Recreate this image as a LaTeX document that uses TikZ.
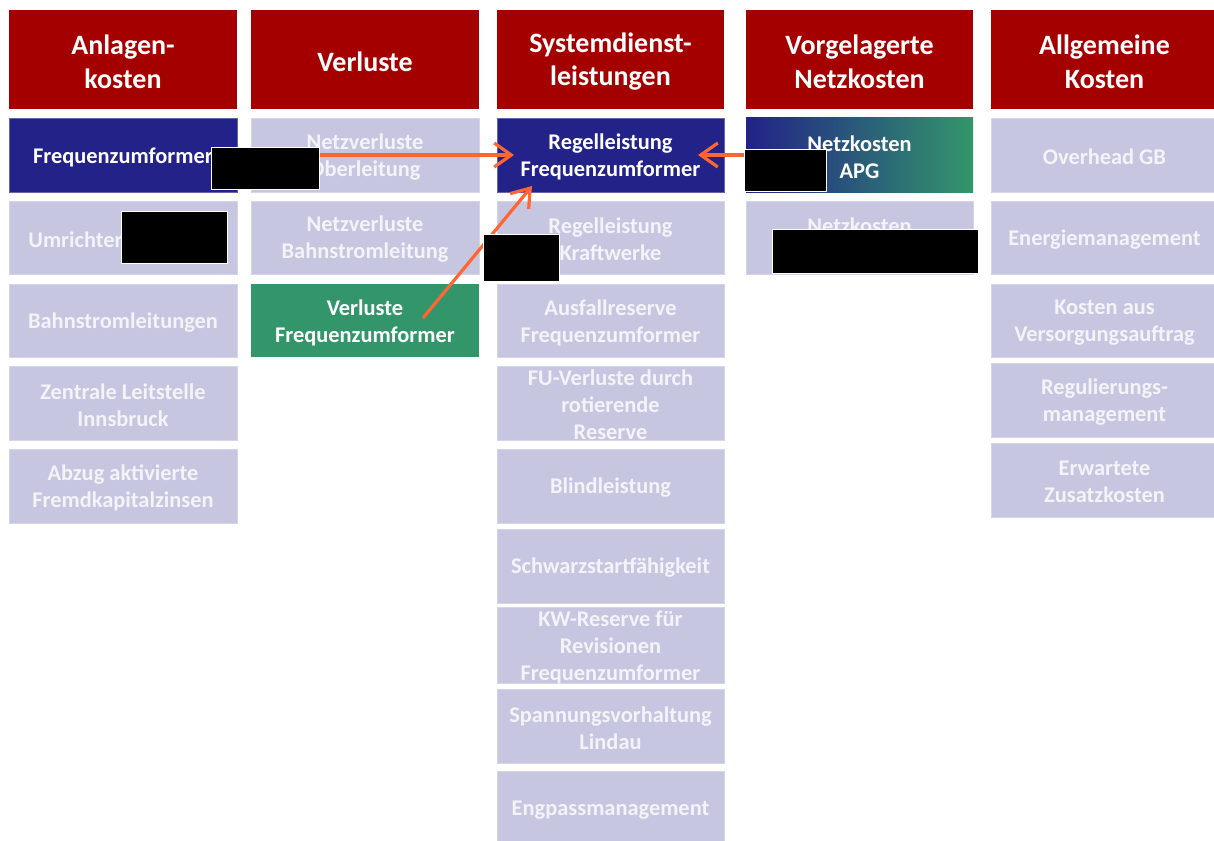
\documentclass[tikz,border=0pt]{standalone}
\usepackage{fontspec}
\setmainfont{Carlito}
\usetikzlibrary{arrows.meta,calc}

\definecolor{hdrred}{HTML}{A50000}
\definecolor{lilac}{HTML}{C6C6E1}
\definecolor{lilacedge}{HTML}{D4D4EA}
\definecolor{lilactxt}{HTML}{F3F3FA}
\definecolor{navy}{HTML}{222288}
\definecolor{teal}{HTML}{33966B}
\definecolor{flame}{HTML}{FF6633}

\tikzset{
  hdrbox/.style={fill=hdrred},
  litebox/.style={fill=lilac, draw=lilacedge, line width=0.4pt},
  navybox/.style={fill=navy, draw=navy!70!white, line width=0.4pt},
  tealbox/.style={fill=teal},
  gradbox/.style={left color=navy, right color=teal},
  hdrtxt/.style={font=\fontsize{14}{16.8}\selectfont\bfseries, text=white, align=center, inner sep=0pt, yshift=-1pt},
  darktxt/.style={font=\fontsize{11.2}{13.5}\selectfont\bfseries, text=white, align=center, inner sep=0pt, yshift=-1pt},
  litetxt/.style={font=\fontsize{11.2}{13.5}\selectfont\bfseries, text=lilactxt, align=center, inner sep=0pt, yshift=-1pt},
  redact/.style={fill=black, draw=white, line width=0.5pt, inner sep=0pt, outer sep=0pt},
  flow/.style={draw=flame, line width=1.6pt, -{Straight Barb[length=8.5pt,width=12pt]}},
}

% \cell{name}{left}{top}{right}{bottom}{box style}{text style}{text}
\newcommand\cell[8]{%
  \node[#6, inner sep=0pt, outer sep=0pt,
        minimum width={(#4-#2)*0.5pt}, minimum height={(#5-#3)*0.5pt}]
        (#1) at ({(#2+#4)/2},{(#3+#5)/2}) {};
  \node[#7] at (#1.center) {#8};}

% \blackout{name}{left}{top}{right}{bottom}
\newcommand\blackout[5]{%
  \node[redact, minimum width={(#4-#2)*0.5pt}, minimum height={(#5-#3)*0.5pt}]
        (#1) at ({(#2+#4)/2},{(#3+#5)/2}) {};}

\begin{document}
\begin{tikzpicture}[x=0.5pt, y=-0.5pt]
  \useasboundingbox (0,0) rectangle (1214,840);

  % column headers
  \cell{h1}{9}{10}{237}{109}{hdrbox}{hdrtxt}{Anlagen-\\kosten}
  \cell{h2}{251}{10}{479}{109}{hdrbox}{hdrtxt}{Verluste}
  \cell{h3}{497}{10}{724}{109}{hdrbox}{hdrtxt}{Systemdienst-\\leistungen}
  \cell{h4}{746}{10}{973}{109}{hdrbox}{hdrtxt}{Vorgelagerte\\Netzkosten}
  \cell{h5}{991}{10}{1218}{109}{hdrbox}{hdrtxt}{Allgemeine\\Kosten}

  % Anlagenkosten
  \cell{fz1}{9}{118}{237}{192}{navybox}{darktxt}{Frequenzumformer}
  \node[litebox, inner sep=0pt, outer sep=0pt, minimum width=114pt, minimum height=36.5pt]
        (um1) at (123,237.5) {};
  \node[litetxt, anchor=west] at (28,237.5) {Umrichter};
  \cell{bs1}{9}{284}{237}{357}{litebox}{litetxt}{Bahnstromleitungen}
  \cell{zl1}{9}{366}{237}{440}{litebox}{litetxt}{Zentrale Leitstelle\\Innsbruck}
  \cell{ab1}{9}{449}{237}{523}{litebox}{litetxt}{Abzug aktivierte\\Fremdkapitalzinsen}

  % Verluste
  \cell{no2}{251}{118}{479}{192}{litebox}{litetxt}{Netzverluste\\Oberleitung}
  \cell{nb2}{251}{201}{479}{274}{litebox}{litetxt}{Netzverluste\\Bahnstromleitung}
  \cell{vf2}{251}{284}{479}{357}{tealbox}{darktxt}{Verluste\\Frequenzumformer}

  % Systemdienstleistungen
  \cell{rf3}{497}{118}{724}{192}{navybox}{darktxt}{Regelleistung\\Frequenzumformer}
  \cell{rk3}{497}{201}{724}{274}{litebox}{litetxt}{Regelleistung\\Kraftwerke}
  \cell{ar3}{497}{284}{724}{357}{litebox}{litetxt}{Ausfallreserve\\Frequenzumformer}
  \cell{fu3}{497}{366}{724}{440}{litebox}{litetxt}{FU-Verluste durch\\rotierende\\Reserve}
  \cell{bl3}{497}{449}{724}{523}{litebox}{litetxt}{Blindleistung}
  \cell{sw3}{497}{529}{724}{603}{litebox}{litetxt}{Schwarzstartfähigkeit}
  \cell{kw3}{497}{607}{724}{683}{litebox}{litetxt}{KW-Reserve für\\Revisionen\\Frequenzumformer}
  \cell{sv3}{497}{689}{724}{763}{litebox}{litetxt}{Spannungsvorhaltung\\Lindau}
  \cell{ep3}{497}{771}{724}{846}{litebox}{litetxt}{Engpassmanagement}

  % Vorgelagerte Netzkosten
  \cell{apg4}{746}{118}{973}{192}{gradbox}{darktxt}{Netzkosten\\APG}
  \node[litebox, inner sep=0pt, outer sep=0pt, minimum width=113.5pt, minimum height=36.5pt]
        (nk4) at (859.5,237.5) {};
  \node[litetxt] at (859.5,224) {Netzkosten};

  % Allgemeine Kosten
  \cell{oh5}{991}{118}{1218}{192}{litebox}{litetxt}{Overhead GB}
  \cell{em5}{991}{201}{1218}{274}{litebox}{litetxt}{Energiemanagement}
  \cell{kv5}{991}{284}{1218}{357}{litebox}{litetxt}{Kosten aus\\Versorgungsauftrag}
  \cell{rm5}{991}{363}{1218}{437}{litebox}{litetxt}{Regulierungs-\\management}
  \cell{ez5}{991}{443}{1218}{517}{litebox}{litetxt}{Erwartete\\Zusatzkosten}

  % flows into Regelleistung Frequenzumformer
  \coordinate (vfstart) at (423,318);
  \coordinate (vfend) at (532,186);
  \draw[flow] (fz1.east) -- ($(rf3.west)+(17,0)$);
  \draw[flow] (apg4.west) -- ($(rf3.east)+(-26,0)$);
  \draw[flow] (vfstart) -- (vfend);

  % blacked-out areas
  \blackout{k1}{211}{147}{319}{189}
  \blackout{k2}{121}{211}{227}{263}
  \blackout{k3}{483}{234}{559}{281}
  \blackout{k4}{744}{149}{826}{191}
  \blackout{k5}{772}{229}{978}{273}
\end{tikzpicture}
\end{document}
